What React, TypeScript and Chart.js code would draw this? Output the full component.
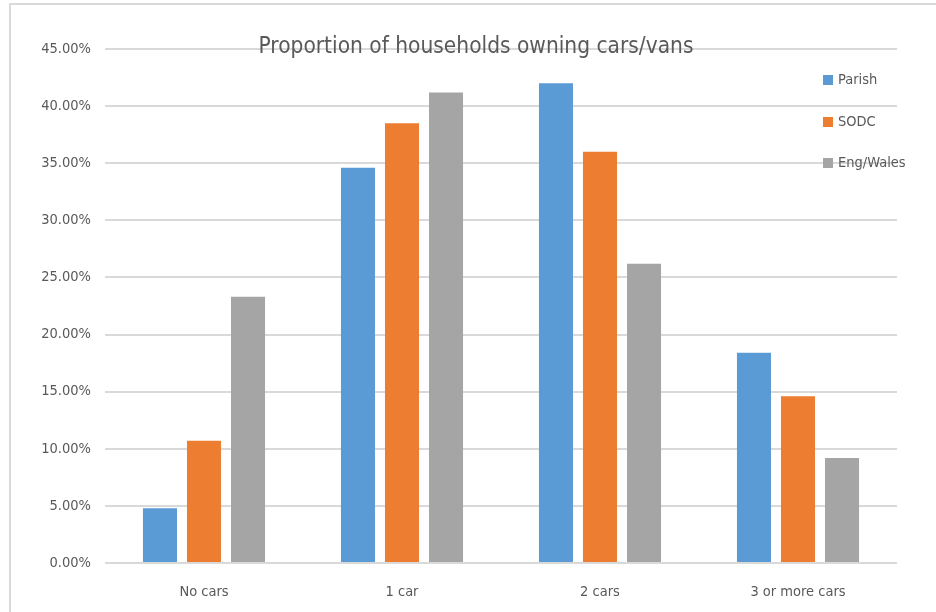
import React, { useEffect, useRef } from "react";
import { Chart, registerables } from "chart.js";

Chart.register(...registerables);

const categories = ["No cars", "1 car", "2 cars", "3 or more cars"];
const parish = [4.8, 34.6, 42.0, 18.4];
const sodc = [10.7, 38.5, 36.0, 14.6];
const engWales = [23.3, 41.2, 26.2, 9.2];
const seriesNames = ["Parish", "SODC", "Eng/Wales"];
const seriesColors = ["#5B9BD5", "#ED7D31", "#A5A5A5"];
const titleText = "Proportion of households owning cars/vans";

const FONT = '"Liberation Sans Narrow", "Arial Narrow", "DejaVu Sans Condensed", sans-serif';
const TEXT = "#595959";

const decorPlugin = {
  id: "decor",
  beforeDraw(chart: any) {
    const ctx = chart.ctx;
    ctx.save();
    ctx.strokeStyle = "#d9d9d9";
    ctx.lineWidth = 2;
    ctx.beginPath();
    ctx.moveTo(10, 612);
    ctx.lineTo(10, 4);
    ctx.lineTo(936, 4);
    ctx.stroke();
    ctx.restore();
  },
  afterDraw(chart: any) {
    const ctx = chart.ctx;
    ctx.save();
    ctx.fillStyle = TEXT;
    ctx.font = `22.5px ${FONT}`;
    ctx.textAlign = "center";
    ctx.textBaseline = "middle";
    ctx.fillText(titleText, 476, 47);
    ctx.font = `14.5px ${FONT}`;
    ctx.textAlign = "left";
    const ys = [80, 122, 163];
    seriesNames.forEach((n, i) => {
      ctx.fillStyle = seriesColors[i];
      ctx.fillRect(823, ys[i] - 5, 10, 10);
      ctx.fillStyle = TEXT;
      ctx.fillText(n, 838, ys[i]);
    });
    ctx.restore();
  },
};

export default function App() {
  const ref = useRef<HTMLCanvasElement>(null);
  useEffect(() => {
    if (!ref.current) return;
    const chart = new Chart(ref.current, {
      type: "bar",
      data: {
        labels: categories,
        datasets: [parish, sodc, engWales].map((d, i) => ({
          label: seriesNames[i],
          data: d,
          backgroundColor: seriesColors[i],
          categoryPercentage: 0.667,
          barPercentage: 0.773,
        })),
      },
      options: {
        animation: false,
        responsive: false,
        maintainAspectRatio: false,
        layout: { padding: { left: 0, right: 39, top: 49, bottom: 0 } },
        plugins: { legend: { display: false }, title: { display: false }, tooltip: { enabled: false } },
        scales: {
          x: {
            grid: { display: false, drawTicks: false },
            border: { display: false },
            ticks: { color: TEXT, font: { family: FONT, size: 14.5 }, padding: 21 },
            afterFit: (s: any) => { s.height = 49; },
          },
          y: {
            min: 0,
            max: 45,
            grid: { color: "#d9d9d9", lineWidth: 2, drawTicks: false },
            border: { display: false },
            ticks: {
              stepSize: 5,
              color: TEXT,
              font: { family: FONT, size: 14.5 },
              padding: 14,
              callback: (v: any) => Number(v).toFixed(2) + "%",
            },
            afterFit: (s: any) => { s.width = 105; },
          },
        },
      },
      plugins: [decorPlugin],
    });
    return () => chart.destroy();
  }, []);
  return (
    <div style={{ position: "fixed", left: 0, top: 0, width: 936, height: 612, background: "#fff" }}>
      <canvas ref={ref} width={936} height={612} style={{ display: "block" }} />
    </div>
  );
}
